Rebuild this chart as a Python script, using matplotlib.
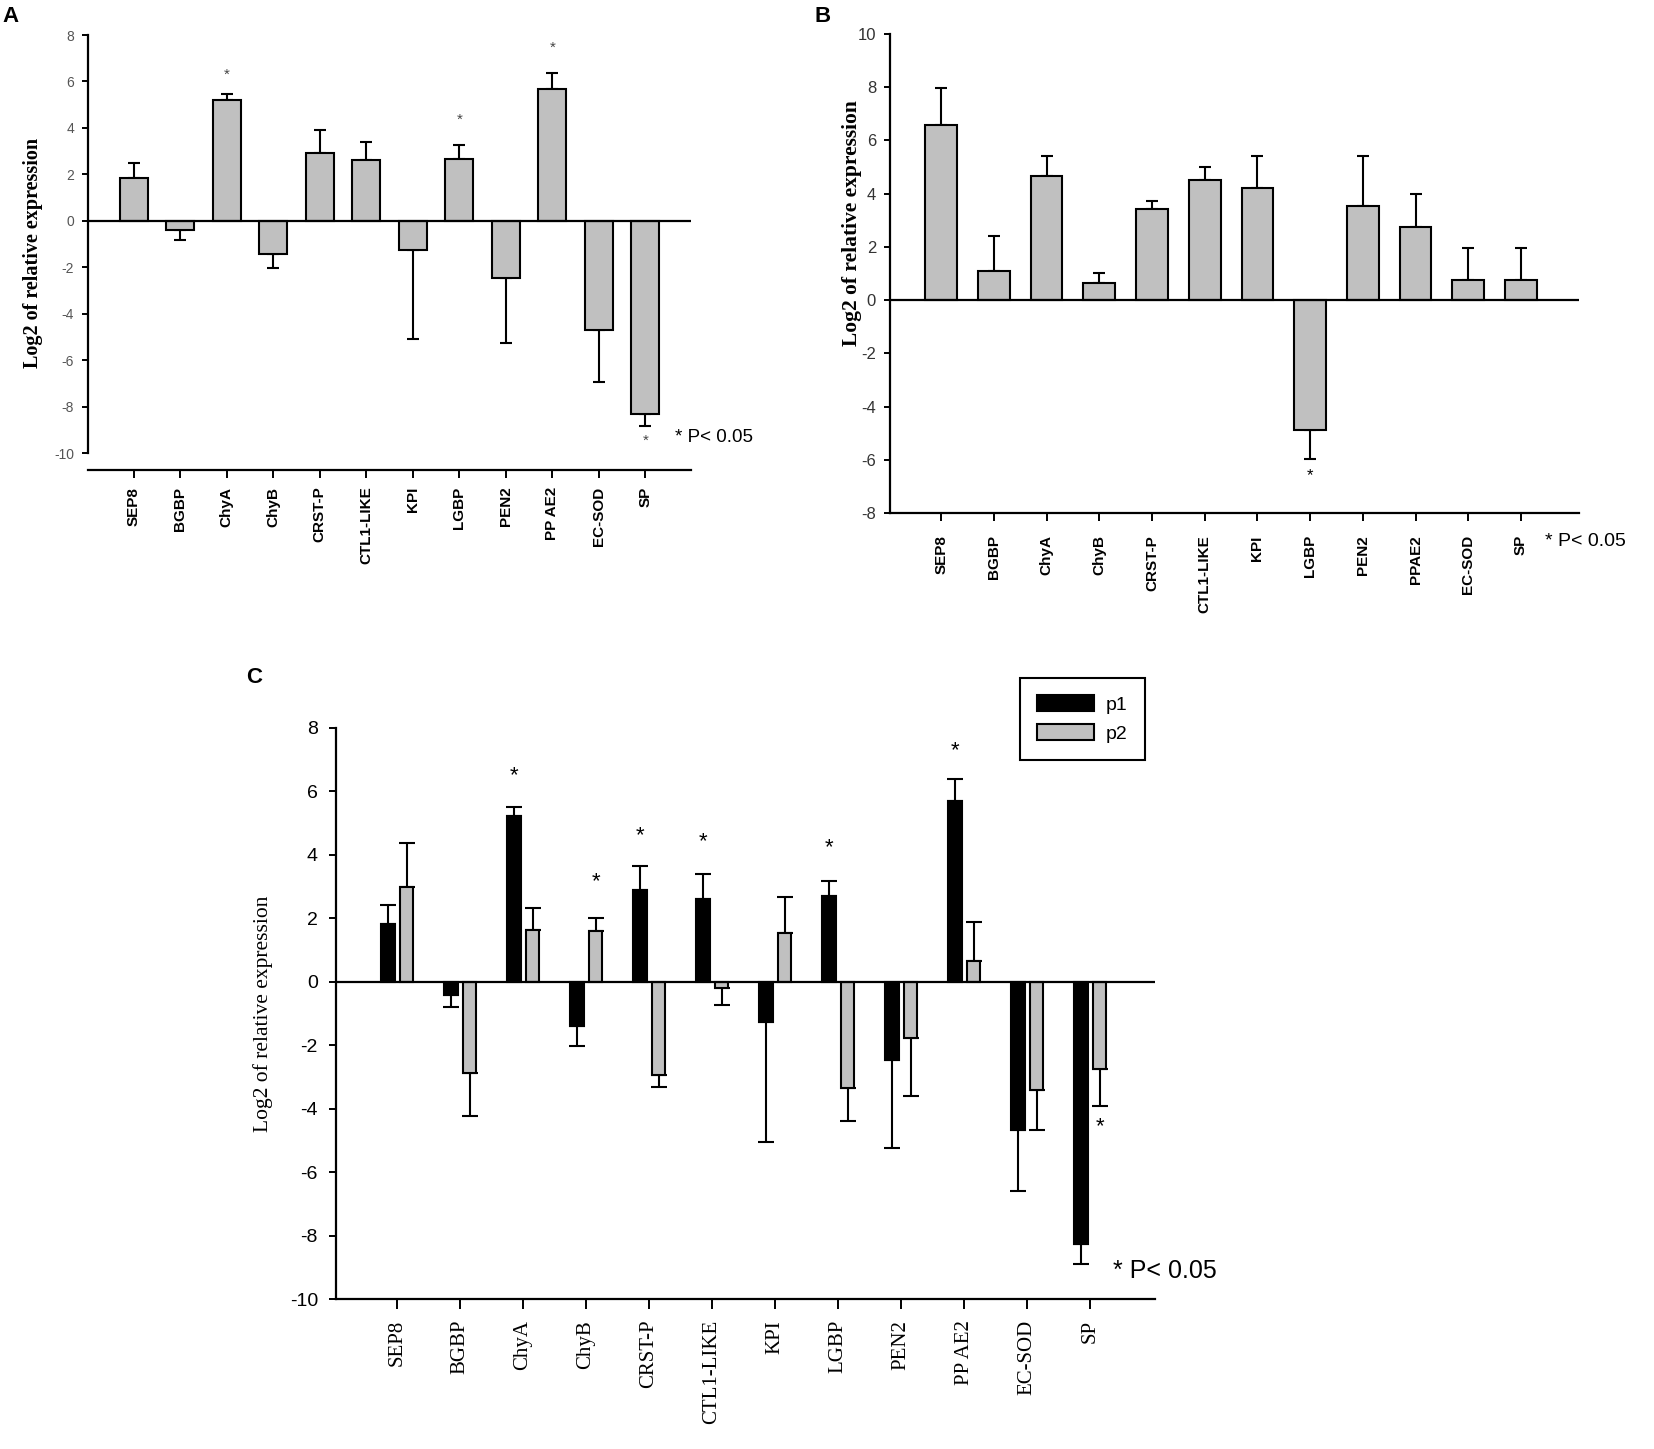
import numpy as np
import matplotlib.pyplot as plt

plt.rcParams['axes.unicode_minus'] = False

genes = ['SEP8', 'BGBP', 'ChyA', 'ChyB', 'CRST-P', 'CTL1-LIKE', 'KPI', 'LGBP',
         'PEN2', 'PP AE2', 'EC-SOD', 'SP']
genes_b = ['SEP8', 'BGBP', 'ChyA', 'ChyB', 'CRST-P', 'CTL1-LIKE', 'KPI', 'LGBP',
           'PEN2', 'PPAE2', 'EC-SOD', 'SP']

# panel A
a_val = [1.86, -0.40, 5.21, -1.43, 2.92, 2.62, -1.26, 2.65, -2.48, 5.66, -4.69, -8.34]
a_err = [0.61, 0.41, 0.27, 0.59, 0.98, 0.76, 3.81, 0.61, 2.77, 0.72, 2.25, 0.50]
a_star = {2: 6.27, 7: 4.37, 9: 7.46, 11: -9.48}

# panel B
b_val = [6.57, 1.08, 4.68, 0.63, 3.43, 4.52, 4.21, -4.89, 3.53, 2.73, 0.75, 0.75]
b_err = [1.41, 1.34, 0.73, 0.38, 0.31, 0.49, 1.20, 1.07, 1.88, 1.27, 1.20, 1.20]
b_star = {7: -6.59}

# panel C
p1_val = [1.83, -0.42, 5.24, -1.40, 2.88, 2.62, -1.26, 2.69, -2.48, 5.69, -4.68, -8.27]
p1_err = [0.58, 0.37, 0.27, 0.64, 0.78, 0.78, 3.78, 0.50, 2.76, 0.70, 1.93, 0.63]
p2_val = [2.98, -2.88, 1.62, 1.61, -2.95, -0.21, 1.54, -3.35, -1.78, 0.66, -3.40, -2.76]
p2_err = [1.38, 1.36, 0.72, 0.41, 0.37, 0.52, 1.13, 1.05, 1.83, 1.22, 1.26, 1.17]
p1_star = {2: 6.51, 4: 4.59, 5: 4.42, 7: 4.24, 9: 7.29}
p2_star = {3: 3.14, 11: -4.57}

SANS = 'Liberation Sans'
SERIF = 'Liberation Serif'
GREY = '#c0c0c0'
W, H = 1654, 1449


def px(x0, y0, x1, y1):
    # pixel box -> figure fraction rect
    return [x0 / W, 1 - y1 / H, (x1 - x0) / W, (y1 - y0) / H]


def one_sided(v, e):
    v = np.asarray(v)
    e = np.asarray(e)
    lo = np.where(v < 0, e, 0)
    hi = np.where(v >= 0, e, 0)
    return [lo, hi]


def bars(ax, x, v, e, width, color, capsize, lw=1.5):
    b = ax.bar(x, v, width, color=color, edgecolor='black', linewidth=lw, zorder=3)
    ax.errorbar(x, v, yerr=one_sided(v, e), fmt='none', ecolor='black',
                elinewidth=lw, capsize=capsize, capthick=lw, zorder=2)
    return b


def style(ax, ticksize, lblsize, color, family, fontweight='normal'):
    for s in ['top', 'right']:
        ax.spines[s].set_visible(False)
    for s in ['left', 'bottom']:
        ax.spines[s].set_linewidth(1.6)
    ax.tick_params(axis='both', direction='out', width=1.4, length=5)
    for lab in ax.get_yticklabels():
        lab.set_fontfamily(SANS)
        lab.set_fontsize(ticksize)
        lab.set_color(color)
    for lab in ax.get_xticklabels():
        lab.set_fontfamily(family)
        lab.set_fontsize(lblsize)
        lab.set_rotation(90)
        lab.set_fontweight(fontweight)


fig = plt.figure(figsize=(W / 100, H / 100), dpi=100)
x = np.arange(len(genes))

# ---------- A ----------
axA = fig.add_axes(px(88, 35, 691, 470))
bars(axA, x, a_val, a_err, 0.6, GREY, 4)
axA.axhline(0, color='black', lw=1.6, zorder=4)
axA.set_xlim(-0.98, 11.98)
axA.set_ylim(-10.73, 8)
axA.spines['left'].set_bounds(-10, 8)
axA.set_yticks(range(-10, 9, 2))
axA.set_xticks(x)
axA.set_xticklabels(genes)
style(axA, 10, 11, '#555555', SANS, 'bold')
axA.tick_params(axis='x', length=6, pad=6)
axA.tick_params(axis='y', length=4, pad=6)
for i, yv in a_star.items():
    axA.text(i, yv, '*', ha='center', va='center', fontsize=11, color='#444444',
             family=SANS)
axA.set_ylabel('Log2 of relative expression', family=SERIF, fontweight='bold',
               fontsize=14.5, labelpad=8)
fig.text(675 / W, 1 - 438 / H, '* P< 0.05', family=SANS, fontsize=13.5,
         va='center', ha='left')
fig.text(2 / W, 1 - 16 / H, 'A', family=SANS, fontsize=16, fontweight='bold',
         va='center', ha='left')

# ---------- B ----------
axB = fig.add_axes(px(890, 34, 1579, 513))
bars(axB, x, b_val, b_err, 0.6, GREY, 4.5)
axB.axhline(0, color='black', lw=1.6, zorder=4)
axB.set_xlim(-0.97, 12.1)
axB.set_ylim(-8, 10)
axB.set_yticks(range(-8, 11, 2))
axB.set_xticks(x)
axB.set_xticklabels(genes_b)
style(axB, 12, 11, '#333333', SANS, 'bold')
axB.tick_params(axis='x', length=6, pad=10)
axB.tick_params(axis='y', length=4, pad=6)
for i, yv in b_star.items():
    axB.text(i, yv, '*', ha='center', va='center', fontsize=12, family=SANS)
fig.text(852 / W, 1 - 223 / H, 'Log2 of relative expression', family=SERIF,
         fontweight='bold', fontsize=15.5, rotation=90, va='center', ha='center')
fig.text(1545 / W, 1 - 541 / H, '* P< 0.05', family=SANS, fontsize=14,
         va='center', ha='left')
fig.text(815 / W, 1 - 16 / H, 'B', family=SANS, fontsize=16, fontweight='bold',
         va='center', ha='left')

# ---------- C ----------
axC = fig.add_axes(px(336, 728, 1155, 1299))
off = 0.15
h1 = bars(axC, x - off, p1_val, p1_err, 0.22, 'black', 5.5)
h2 = bars(axC, x + off, p2_val, p2_err, 0.22, GREY, 5.5)
axC.axhline(0, color='black', lw=1.6, zorder=4)
axC.set_xlim(-0.97, 12.03)
axC.set_ylim(-10, 8)
axC.set_yticks(range(-10, 9, 2))
axC.set_xticks(x)
axC.set_xticklabels(genes)
style(axC, 14, 15, 'black', SERIF)
axC.tick_params(axis='x', length=7, pad=8)
axC.tick_params(axis='y', length=5, pad=8)
for i, yv in p1_star.items():
    axC.text(i - off, yv, '*', ha='center', va='center', fontsize=16, family=SANS)
for i, yv in p2_star.items():
    axC.text(i + off, yv, '*', ha='center', va='center', fontsize=16, family=SANS)
axC.set_ylabel('Log2 of relative expression', family=SERIF, fontsize=15.5,
               labelpad=12)
leg = axC.legend([h1, h2], ['p1', 'p2'], loc='upper left',
                 bbox_to_anchor=(0.823, 1.105),
                 prop={'family': SANS, 'size': 14}, frameon=True, fancybox=False,
                 edgecolor='black', handlelength=2.9, handleheight=0.9,
                 borderpad=0.9, labelspacing=0.5, handletextpad=0.6,
                 framealpha=1)
leg.get_frame().set_linewidth(1.5)
fig.text(1113 / W, 1 - 1271 / H, '* P< 0.05', family=SANS, fontsize=18,
         va='center', ha='left')
fig.text(246 / W, 1 - 678 / H, 'C', family=SANS, fontsize=16, fontweight='bold',
         va='center', ha='left')

fig.savefig('out.png', dpi=100)
